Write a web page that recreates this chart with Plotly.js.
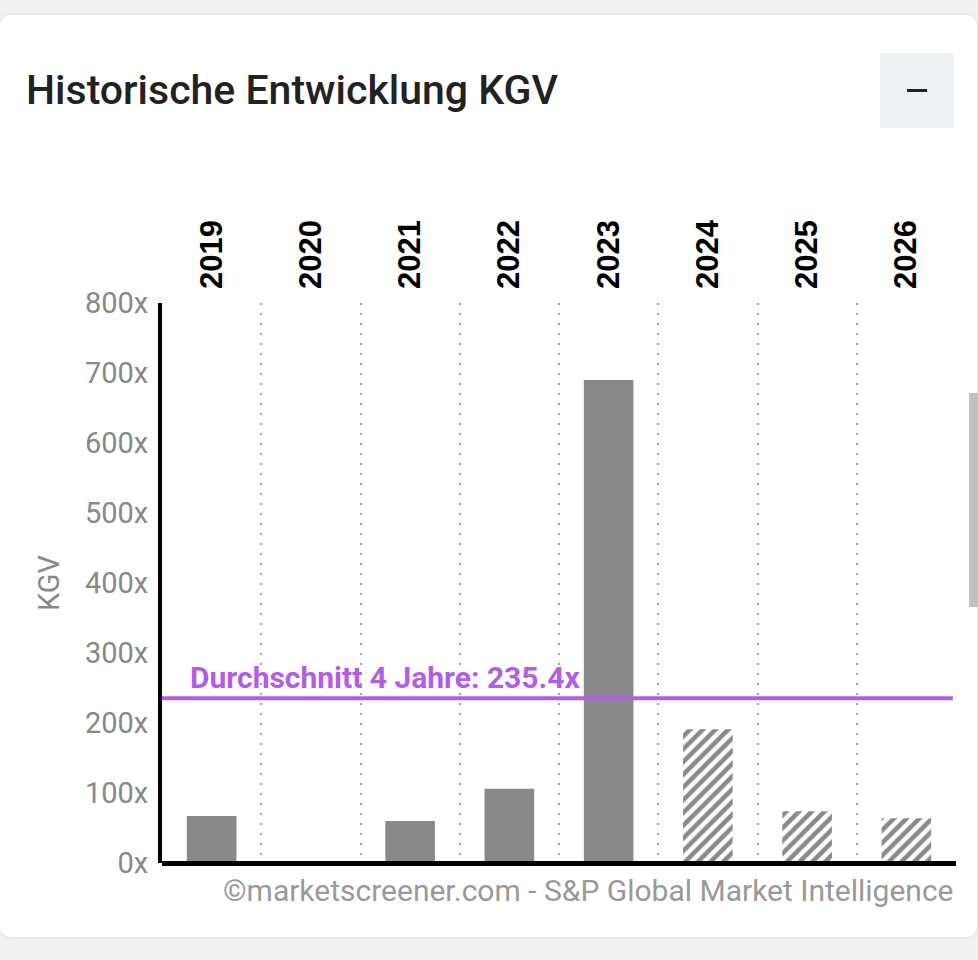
<!DOCTYPE html>
<html>
<head>
<meta charset="utf-8">
<script src="https://cdn.plot.ly/plotly-3.0.1.min.js"></script>
<style>
  html, body { margin:0; padding:0; background:#f1f1f1; width:978px; height:960px; overflow:hidden; }
  #card { position:absolute; left:0; top:15px; width:977px; height:922px; background:#fff; border-radius:10px; box-shadow:0 0 3px rgba(0,0,0,0.12); }
  #btn { position:absolute; left:880px; top:53px; width:74px; height:75px; background:#eef1f4; }
  #btn span { position:absolute; left:27px; top:36px; width:20px; height:3px; background:#222; }
  #scroll { position:absolute; left:969px; top:393px; width:9px; height:214px; background:#c1c1c1; }
  #chart { position:absolute; left:0; top:0; width:978px; height:960px; }
</style>
</head>
<body>
<div id="card"></div>
<div id="btn"><span></span></div>
<div id="scroll"></div>
<div id="chart"></div>
<script>
// ---- data ----
const years = ['2019','2020','2021','2022','2023','2024','2025','2026'];
const histYears = ['2019','2020','2021','2022','2023'];
const histPE = [67, null, 60, 106, 690];
const fcstYears = ['2024','2025','2026'];
const fcstPE = [191, 74, 64];
const avgPE = 235.4;
const avgLabel = 'Durchschnitt 4 Jahre: ' + avgPE.toFixed(1) + 'x';
const titleText = 'Historische Entwicklung KGV';
const yTitle = 'KGV';
const sourceText = '©marketscreener.com - S&P Global Market Intelligence';

const barGrey = '#898989';
const purple = '#b25de6';

const traces = [
  {
    type:'bar', x: histYears, y: histPE, width:0.5,
    marker:{color:barGrey, line:{width:0}},
    hoverinfo:'skip'
  },
  {
    type:'bar', x: fcstYears, y: fcstPE, width:0.5,
    marker:{color:'#ffffff', line:{width:0},
      pattern:{shape:'/', fgcolor:barGrey, bgcolor:'#ffffff', size:9, solidity:0.5}},
    hoverinfo:'skip'
  }
];

const layout = {
  width:978, height:960,
  paper_bgcolor:'rgba(0,0,0,0)', plot_bgcolor:'rgba(0,0,0,0)',
  margin:{l:162, r:22, t:303, b:97},
  showlegend:false,
  barmode:'overlay',
  font:{family:'Roboto, sans-serif', color:'#888'},
  title:{text:titleText, font:{family:'Roboto', size:41, color:'#222', weight:500},
    xref:'container', yref:'container', x:26/978, xanchor:'left', y:1-90/960, yanchor:'middle'},
  xaxis:{
    type:'category', categoryarray: years, categoryorder:'array',
    range:[-0.5, years.length-0.5],
    side:'top', showline:false, tickson:'boundaries', ticks:'',
    tickangle:-90, ticklabelstandoff:13,
    tickfont:{family:'Liberation Sans, Arial', size:31, color:'#000', weight:'bold'},
    showgrid:true, gridcolor:'#a0a0a0', gridwidth:2, griddash:'2px,8px',
    zeroline:false, fixedrange:true
  },
  yaxis:{
    range:[0,800], dtick:100, ticksuffix:'x',
    tickfont:{family:'Roboto', size:29, color:'#888'},
    showgrid:false, showline:true, linecolor:'#000', linewidth:4,
    ticks:'outside', ticklen:4, tickcolor:'rgba(0,0,0,0)',
    zeroline:true, zerolinecolor:'#000', zerolinewidth:5, zerolinelayer:'above traces',
    title:{text:yTitle, font:{family:'Roboto', size:29, color:'#888'}, standoff:18},
    fixedrange:true
  },
  shapes:[
    {type:'line', xref:'paper', x0:0, x1:0.996, yref:'y', y0:avgPE, y1:avgPE,
     line:{color:purple, width:4}, layer:'above'}
  ],
  annotations:[
    {xref:'paper', x:26/794, xanchor:'left', yref:'y', y:avgPE, yanchor:'bottom', yshift:1,
     text:'<b>'+avgLabel+'</b>', showarrow:false,
     font:{family:'Roboto', size:30, color:purple}},
    {xref:'paper', x:1.0, xanchor:'right', yref:'paper', y:0, yanchor:'top', yshift:-8,
     text:sourceText, showarrow:false,
     font:{family:'Roboto', size:30, color:'#999'}}
  ]
};

Plotly.newPlot('chart', traces, layout, {displayModeBar:false, staticPlot:true});
</script>
</body>
</html>
